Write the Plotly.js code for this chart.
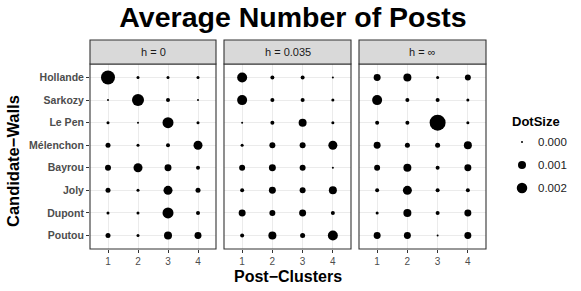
<!DOCTYPE html>
<html>
<head>
<meta charset="utf-8">
<script src="https://cdn.plot.ly/plotly-3.0.1.min.js"></script>
<style>html,body{margin:0;padding:0;background:#fff;}#chart{width:581px;height:291px;}</style>
</head>
<body>
<div id="chart"></div>
<script>
// ---- data ----
var candidates = ["Hollande","Sarkozy","Le Pen","Mélenchon","Bayrou","Joly","Dupont","Poutou"];
var clusters = [1,2,3,4];
var panelLabels = ["h = 0","h = 0.035","h = ∞"];

// rows = candidates, columns = clusters 1..4
var vals_h0 = [
  [0.0040, 0.00003, 0.00003, 0.00003],
  [0.0000, 0.00278, 0.00011, 0.0000],
  [0.00003, 0.0000, 0.00225, 0.00003],
  [0.00025, 0.00003, 0.00011, 0.00136],
  [0.00044, 0.00136, 0.00069, 0.00011],
  [0.00025, 0.00003, 0.00136, 0.00025],
  [0.00003, 0.00003, 0.00225, 0.00011],
  [0.00025, 0.00003, 0.0010, 0.00069]
];
var vals_h035 = [
  [0.00178, 0.00011, 0.00011, 0.0000],
  [0.00178, 0.00011, 0.00011, 0.00003],
  [0.0000, 0.00011, 0.0010, 0.00003],
  [0.00003, 0.00044, 0.00044, 0.00136],
  [0.00044, 0.00069, 0.00044, 0.0000],
  [0.00011, 0.00069, 0.00044, 0.0010],
  [0.00069, 0.00044, 0.00069, 0.00011],
  [0.00011, 0.0010, 0.00025, 0.00178]
];
var vals_hinf = [
  [0.00069, 0.0010, 0.00003, 0.00044],
  [0.00178, 0.00011, 0.00011, 0.00003],
  [0.00011, 0.00011, 0.00544, 0.00003],
  [0.00069, 0.00025, 0.00025, 0.0010],
  [0.00044, 0.0010, 0.00011, 0.00069],
  [0.00011, 0.00136, 0.00011, 0.00011],
  [0.00003, 0.0010, 0.00011, 0.00069],
  [0.00069, 0.00069, 0.0000, 0.00069]
];
var legendVals = [0.000, 0.001, 0.002];

// ---- size scale (area scale, like ggplot scale_size) ----
var VMAX = 0.00544, DMIN = 2, DRANGE = 14;
function dia(v){ return DMIN + DRANGE*Math.sqrt(Math.max(v,0)/VMAX); }

var FONT = "Liberation Sans, Arial, Helvetica, sans-serif";
var panels = [vals_h0, vals_h035, vals_hinf];
var xnames = ["x","x2","x3"];
var traces = [];
panels.forEach(function(p, k){
  var xs=[], ys=[], ss=[], vv=[];
  candidates.forEach(function(c, i){
    clusters.forEach(function(cl, j){
      xs.push(cl); ys.push(c); vv.push(p[i][j]); ss.push(dia(p[i][j]));
    });
  });
  traces.push({type:"scatter", mode:"markers", x:xs, y:ys, xaxis:xnames[k], yaxis:"y",
    marker:{color:"#000", size:ss, opacity:1, line:{width:0}}, showlegend:false,
    customdata:vv, hovertemplate:"%{y}, %{x}: %{customdata}<extra></extra>"});
});
// legend trace
traces.push({type:"scatter", mode:"markers", x:legendVals.map(function(){return 0;}), y:legendVals,
  xaxis:"x4", yaxis:"y4", marker:{color:"#000", size:legendVals.map(dia), opacity:1, line:{width:0}},
  showlegend:false, hoverinfo:"skip"});

var W=581, H=291;
function px(x){return x/W;} function py(y){return 1-y/H;}
var yDom=[py(249), py(64)];
var xDoms=[[px(90),px(216)],[px(224),px(351)],[px(359),px(486)]];

var layout = {
  width:W, height:H, margin:{l:0,r:0,t:0,b:0},
  paper_bgcolor:"#fff", plot_bgcolor:"#fff",
  font:{family:FONT, color:"#1a1a1a"},
  showlegend:false,
  title:{text:"<b>Average Number of Posts</b>", x:px(293), xanchor:"center", y:py(17), yanchor:"middle",
    font:{family:FONT, size:28.5, color:"#000"}},
  yaxis:{domain:yDom, anchor:"x", type:"category", categoryorder:"array",
    categoryarray:candidates.slice().reverse(), range:[-0.6, candidates.length-0.4],
    showgrid:true, gridcolor:"#ebebeb", gridwidth:1, zeroline:false,
    ticks:"outside", ticklen:3, tickwidth:1, tickcolor:"#333",
    tickfont:{family:FONT, size:10.5, color:"#4d4d4d", weight:"bold"}, fixedrange:true},
  xaxis4:{domain:[px(500),px(580)], range:[-0.275,0.725], visible:false, anchor:"y4"},
  yaxis4:{domain:[py(200),py(130)], range:[0.002522,-0.000522], visible:false, anchor:"x4"},
  shapes:[], annotations:[]
};
xnames.forEach(function(xn,k){
  var key = k===0 ? "xaxis" : "xaxis"+(k+1);
  layout[key] = {domain:xDoms[k], anchor:"y", range:[0.4,4.6], tickvals:clusters,
    ticktext:clusters.map(String), showgrid:true, gridcolor:"#ebebeb", gridwidth:1, zeroline:false,
    ticks:"outside", ticklen:3, tickwidth:1, tickcolor:"#333",
    tickfont:{family:FONT, size:10, color:"#4d4d4d"}, fixedrange:true};
  var xr = xn+" domain";
  layout.shapes.push({type:"rect", xref:xr, yref:"y domain", x0:0, x1:1, y0:0, y1:1,
    line:{color:"#333", width:1.1}, fillcolor:"rgba(0,0,0,0)", layer:"above"});
  layout.shapes.push({type:"rect", xref:xr, yref:"paper", x0:0, x1:1, y0:py(64), y1:py(40),
    line:{color:"#333", width:1.1}, fillcolor:"#d9d9d9", layer:"above"});
  layout.annotations.push({xref:xr, yref:"paper", x:0.5, y:py(52), xanchor:"center", yanchor:"middle",
    text:panelLabels[k], showarrow:false, font:{family:FONT, size:11, color:"#1a1a1a"}});
});
// axis titles
layout.annotations.push({xref:"paper", yref:"paper", x:px(288), y:py(276), xanchor:"center", yanchor:"middle",
  text:"<b>Post−Clusters</b>", showarrow:false, font:{family:FONT, size:16, color:"#000"}});
layout.annotations.push({xref:"paper", yref:"paper", x:px(13), y:py(161), xanchor:"center", yanchor:"middle",
  text:"<b>Candidate−Walls</b>", textangle:-90, showarrow:false, font:{family:FONT, size:16.5, color:"#000"}});
// legend title and labels
layout.annotations.push({xref:"paper", yref:"paper", x:px(510), y:py(121), xanchor:"left", yanchor:"middle",
  text:"<b>DotSize</b>", showarrow:false, font:{family:FONT, size:13, color:"#000"}});
legendVals.forEach(function(v){
  layout.annotations.push({xref:"x4", yref:"y4", x:0, y:v, xanchor:"left", yanchor:"middle", xshift:14,
    text:v.toFixed(3), showarrow:false, font:{family:FONT, size:11.5, color:"#1a1a1a"}});
});

Plotly.newPlot("chart", traces, layout, {displayModeBar:false, staticPlot:true});
</script>
</body>
</html>
